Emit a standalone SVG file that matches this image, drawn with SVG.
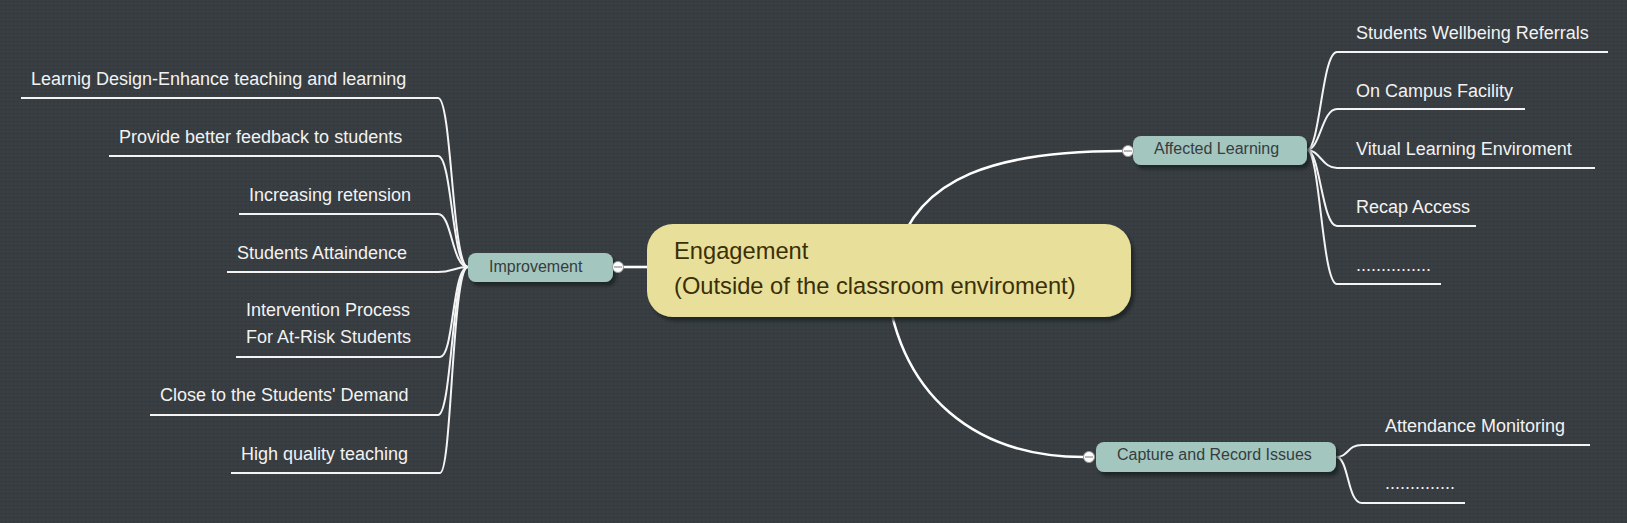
<svg xmlns="http://www.w3.org/2000/svg" width="1627" height="523" viewBox="0 0 1627 523">
<defs>
<pattern id="dots" width="4" height="4" patternUnits="userSpaceOnUse">
<rect width="4" height="4" fill="#393e42"/>
<rect x="1" y="1" width="1.3" height="1.3" fill="#2f3437"/>
</pattern>
<filter id="sh" x="-10%" y="-20%" width="130%" height="160%">
<feDropShadow dx="3" dy="4" stdDeviation="1.5" flood-color="#1e2124" flood-opacity="0.8"/>
</filter>
</defs>
<style>
.main{fill:none;stroke:#ffffff;stroke-width:2.6}
.br{fill:none;stroke:#f4f4f4;stroke-width:2}
.sub{fill:#a3c6bf}
.subt{font-family:"Liberation Sans",Arial,sans-serif;font-size:16px;fill:#383c40}
.leaf{font-family:"Liberation Sans",Arial,sans-serif;font-size:18px;fill:#f2f2f2}
.ctr{font-family:"Liberation Sans",Arial,sans-serif;font-size:23.7px;fill:#3b2f08}
.knob{fill:#ffffff;stroke:#9a9a9a;stroke-width:1}
.minus{stroke:#8a8a8a;stroke-width:1.2}
</style>
<rect width="1627" height="523" fill="url(#dots)"/>

<g id="connectors">
<path class="main" d="M895,260 C915,175 1000,151 1123,151"/>
<path class="main" d="M885,270 C895,400 980,457 1084,457"/>
<path class="main" d="M623,267 L650,267"/>
<!-- Improvement children -->
<path class="br" d="M468,267 C452,267 452,98 438,98 L21,98"/>
<path class="br" d="M468,267 C452,267 452,156 438,156 L109,156"/>
<path class="br" d="M468,267 C452,267 452,214 438,214 L239,214"/>
<path class="br" d="M468,267 C455,267 452,272 438,272 L227,272"/>
<path class="br" d="M468,267 C452,267 454,357 440,357 L236,357"/>
<path class="br" d="M468,267 C452,267 452,415 438,415 L150,415"/>
<path class="br" d="M468,267 C452,267 452,473 440,473 L231,473"/>
<!-- Affected Learning children -->
<path class="br" d="M1307,150 C1320,150 1322,52 1337,52 L1608,52"/>
<path class="br" d="M1307,150 C1320,150 1322,109 1337,109 L1525,109"/>
<path class="br" d="M1307,150 C1320,150 1322,168 1337,168 L1595,168"/>
<path class="br" d="M1307,150 C1320,150 1322,226 1337,226 L1476,226"/>
<path class="br" d="M1307,150 C1320,150 1322,284 1337,284 L1441,284"/>
<!-- Capture children -->
<path class="br" d="M1336,457 C1349,457 1347,445 1362,445 L1590,445"/>
<path class="br" d="M1336,457 C1349,457 1347,503 1362,503 L1465,503"/>
</g>

<g id="central">
<rect x="647" y="224" width="484" height="93" rx="26" fill="#e8df9a" filter="url(#sh)"/>
<text class="ctr" x="674" y="259">Engagement</text>
<text class="ctr" x="674" y="294">(Outside of the classroom enviroment)</text>
</g>

<g id="improvement">
<rect class="sub" x="468" y="253" width="145" height="29" rx="8" filter="url(#sh)"/>
<text class="subt" x="489" y="272">Improvement</text>
<circle class="knob" cx="618" cy="267" r="5.5"/>
<line class="minus" x1="614" y1="267" x2="622" y2="267"/>
</g>

<g id="affected">
<rect class="sub" x="1133" y="136" width="174" height="29" rx="8" filter="url(#sh)"/>
<text class="subt" x="1154" y="154">Affected Learning</text>
<circle class="knob" cx="1128" cy="151" r="5.5"/>
<line class="minus" x1="1124" y1="151" x2="1132" y2="151"/>
</g>

<g id="capture">
<rect class="sub" x="1096" y="442" width="240" height="30" rx="8" filter="url(#sh)"/>
<text class="subt" x="1117" y="460">Capture and Record Issues</text>
<circle class="knob" cx="1089" cy="457" r="5.5"/>
<line class="minus" x1="1085" y1="457" x2="1093" y2="457"/>
</g>

<g id="imp-leaves">
<text class="leaf" x="31" y="85">Learnig Design-Enhance teaching and learning</text>
<text class="leaf" x="119" y="143">Provide better feedback to students</text>
<text class="leaf" x="249" y="201">Increasing retension</text>
<text class="leaf" x="237" y="259">Students Attaindence</text>
<text class="leaf" x="246" y="316">Intervention Process</text>
<text class="leaf" x="246" y="343">For At-Risk Students</text>
<text class="leaf" x="160" y="401">Close to the Students' Demand</text>
<text class="leaf" x="241" y="460">High quality teaching</text>
</g>

<g id="aff-leaves">
<text class="leaf" x="1356" y="39">Students Wellbeing Referrals</text>
<text class="leaf" x="1356" y="97">On Campus Facility</text>
<text class="leaf" x="1356" y="155">Vitual Learning Enviroment</text>
<text class="leaf" x="1356" y="213">Recap Access</text>
<text class="leaf" x="1356" y="271">...............</text>
</g>

<g id="cap-leaves">
<text class="leaf" x="1385" y="432">Attendance Monitoring</text>
<text class="leaf" x="1385" y="489">..............</text>
</g>
</svg>
